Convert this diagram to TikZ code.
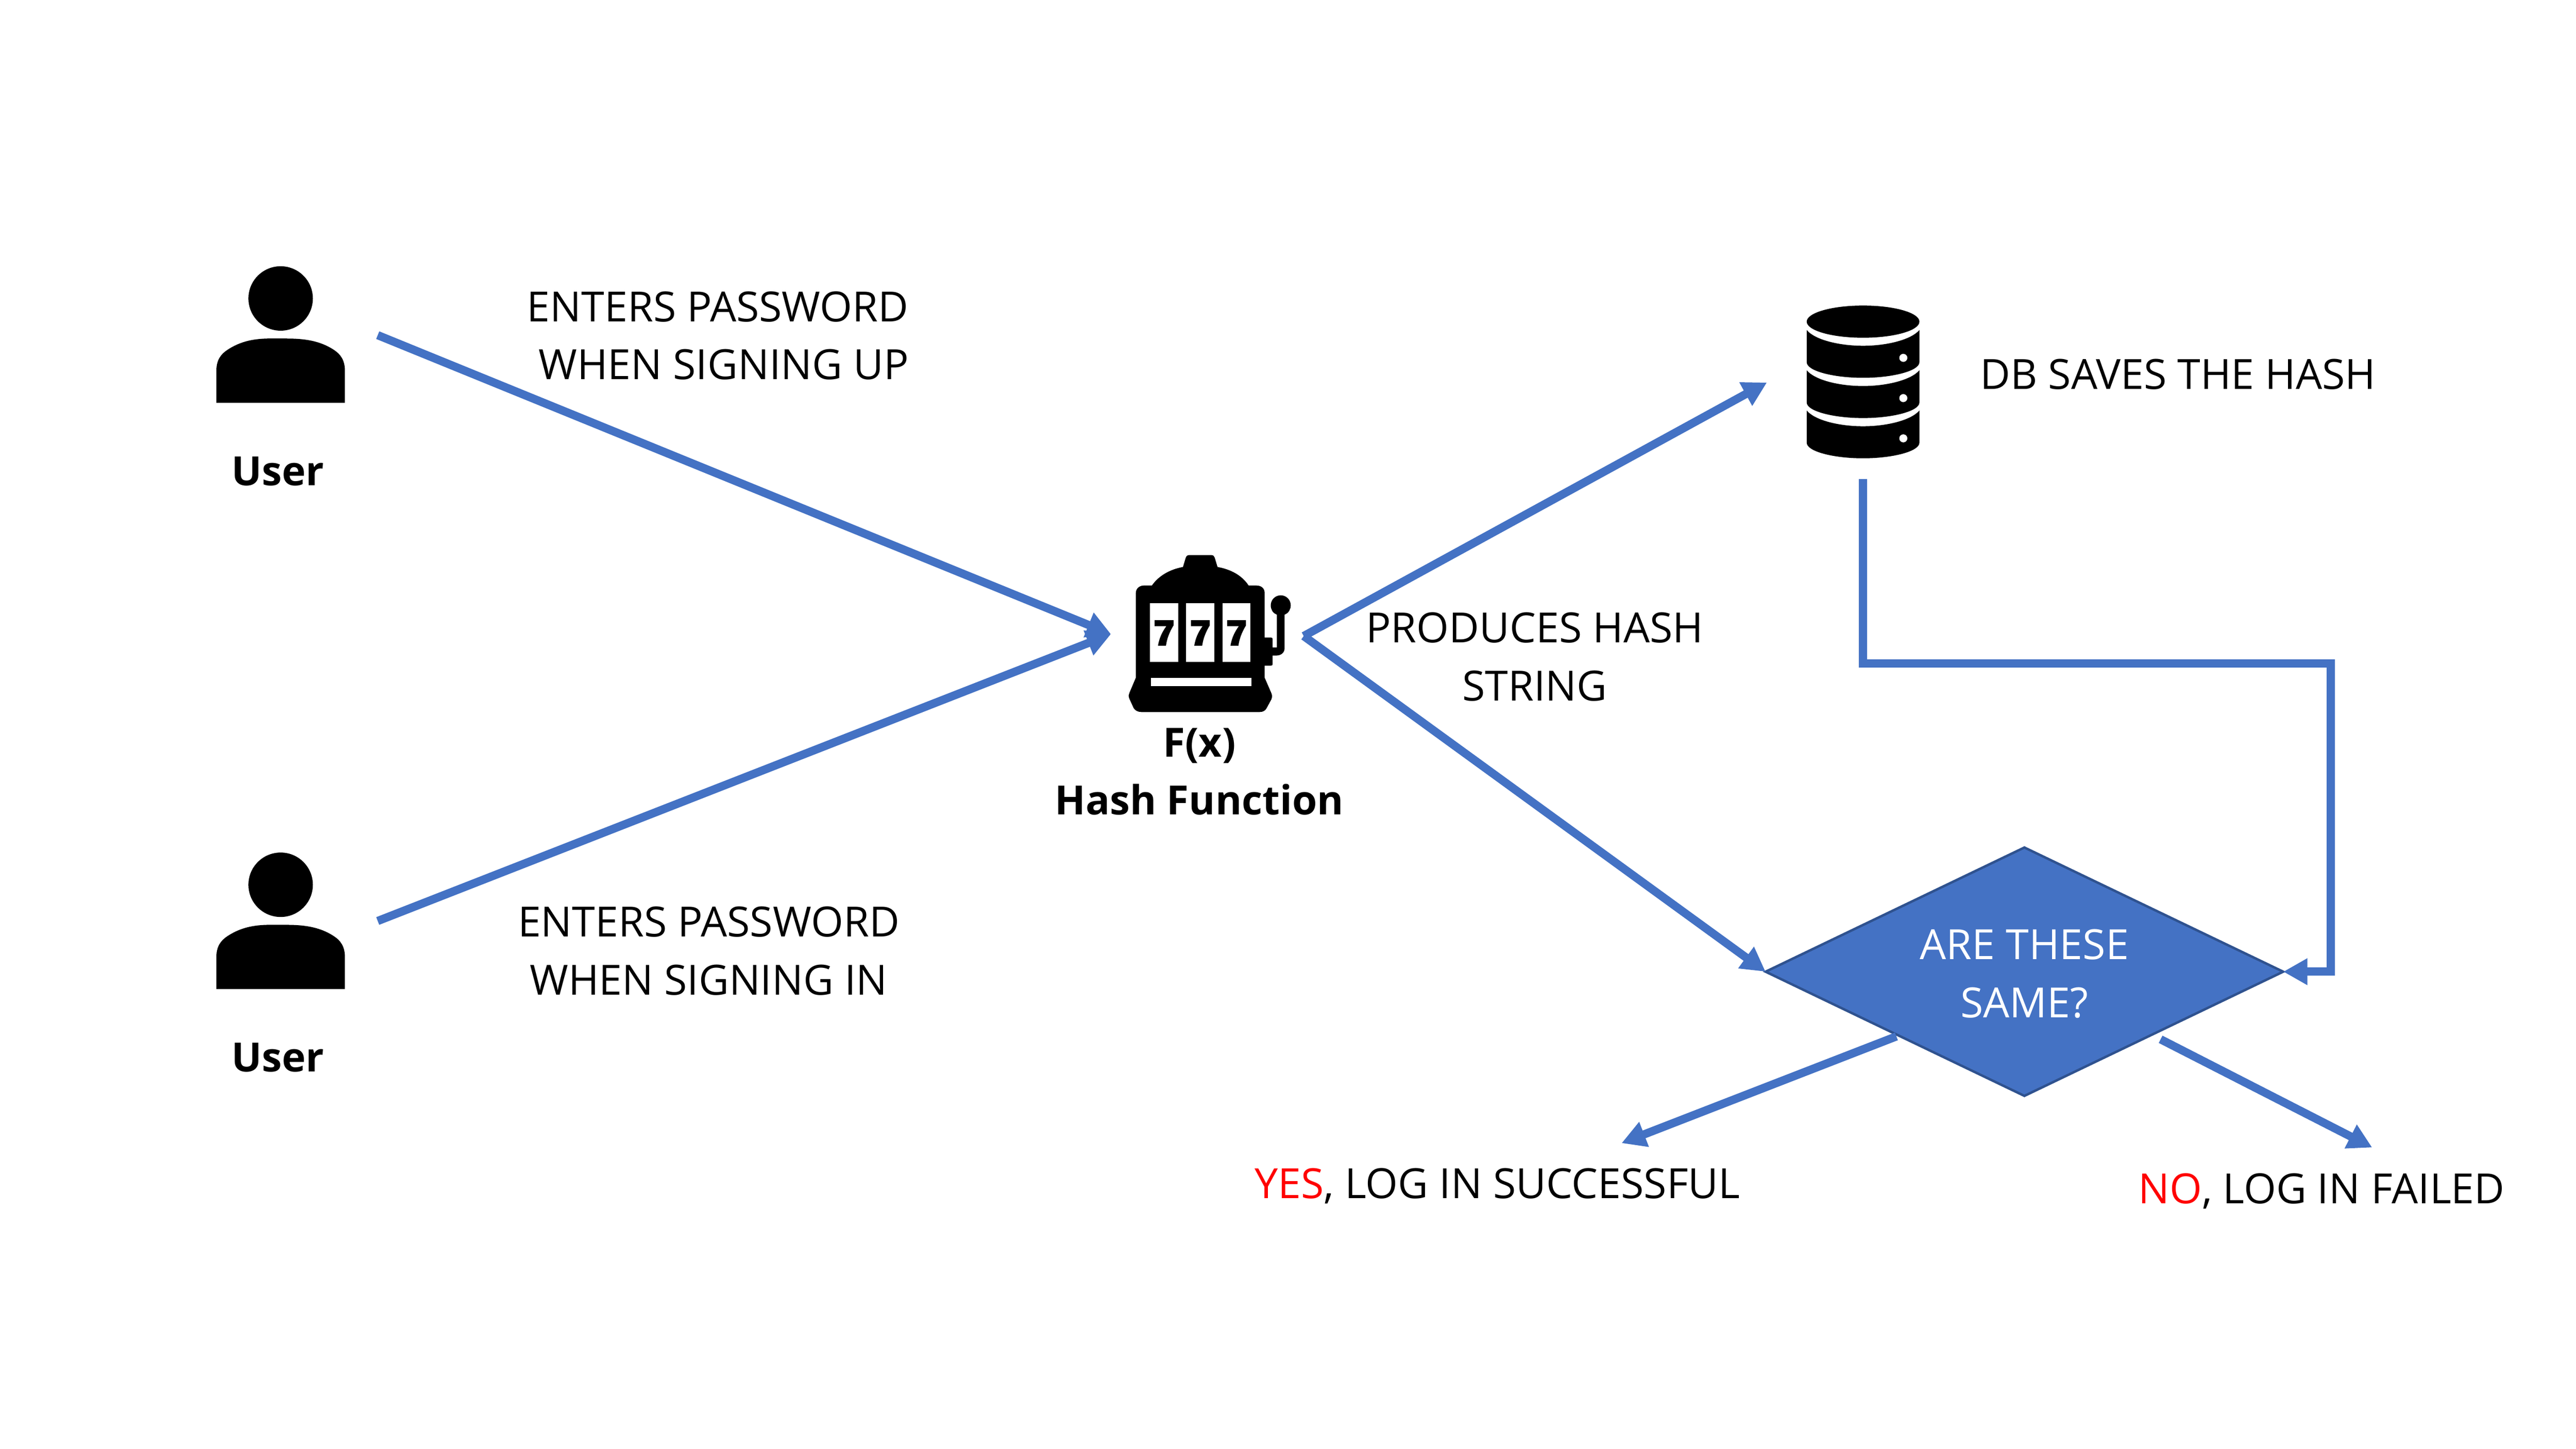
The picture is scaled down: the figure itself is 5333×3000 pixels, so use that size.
\documentclass[tikz,border=0pt]{standalone}
\usepackage{fontspec}
\setmainfont{Open Sans}
\usetikzlibrary{arrows.meta,shapes.geometric}
\definecolor{flow}{HTML}{4472C4}
\definecolor{flowdark}{HTML}{2F528F}
\tikzset{
  flowline/.style={draw=flow,line width=0.17cm,-{Triangle[length=0.5cm,width=0.52cm]}},
  lbl/.style={font=\fontsize{24.5pt}{34.1pt}\selectfont,align=center,inner sep=0,text=black},
  blbl/.style={lbl,font=\bfseries\fontsize{23.7pt}{34.1pt}\selectfont},
  icon/.style={fill=black,draw=none},
  hole/.style={fill=white,draw=none}
}
\newcommand{\personicon}[1]{%
  \begin{scope}[shift={(0,#1)}]
    \fill[icon] (581,618) circle[radius=66.7];
    \fill[icon] (448,834) -- (448,767) .. controls (448,745) and (458,733) .. (470,725) .. controls (510,698) and (550,701) .. (581,701) .. controls (612,701) and (655,700) .. (692,725) .. controls (704,733) and (714,745) .. (714,767) -- (714,834) -- cycle;
  \end{scope}}
\newcommand{\sevenglyph}[1]{%
  \fill[icon,shift={(#1,0)}] (367,552) -- (469,552) -- (469,585) .. controls (445,630) and (433,670) .. (428,711) -- (385,711) .. controls (392,665) and (405,630) .. (430,590) -- (367,590) -- cycle;}
\newcommand{\dbband}[1]{%
  \begin{scope}[shift={(0,#1)}]
    \fill[icon] (421,310) .. controls (470,370) and (620,408) .. (771,408) .. controls (920,408) and (1070,370) .. (1121,310) -- (1121,510) .. controls (1121,565) and (950,607) .. (771,607) .. controls (590,607) and (421,565) .. (421,510) -- cycle;
    \fill[hole] (1021,483) circle[radius=25];
  \end{scope}}
\begin{document}
\begin{tikzpicture}[x=0.01cm,y=-0.01cm]
\useasboundingbox (0,0) rectangle (5333,3000);
\fill[white] (0,0) rectangle (5333,3000);

% icons
\personicon{0}
\personicon{1214}

\begin{scope}[shift={(2250,1100)},xscale=0.3827,yscale=1/3]
  \fill[icon] (265,910) -- (265,385) .. controls (265,355) and (285,337) .. (310,337) -- (352,337)
    .. controls (390,275) and (450,237) .. (520,222) -- (535,165) .. controls (538,153) and (545,148) .. (555,148)
    -- (672,148) .. controls (684,148) and (690,155) .. (692,165) -- (707,222)
    .. controls (780,237) and (840,275) .. (875,337) -- (915,337) .. controls (945,337) and (962,355) .. (962,385)
    -- (962,660) -- (995,660) .. controls (1002,660) and (1005,663) .. (1005,670) -- (1005,722) -- (1028,722) -- (1028,518)
    .. controls (1005,508) and (995,485) .. (995,460) .. controls (995,425) and (1020,398) .. (1049,398)
    .. controls (1078,398) and (1103,425) .. (1103,460) .. controls (1103,485) and (1092,508) .. (1070,518)
    -- (1070,725) .. controls (1070,755) and (1050,772) .. (1025,772) -- (1005,772) -- (1005,825)
    .. controls (1005,832) and (1002,835) .. (995,835) -- (962,835) -- (962,910) -- (998,1005)
    .. controls (1003,1020) and (1003,1030) .. (998,1045) -- (972,1100) .. controls (965,1115) and (952,1123) .. (935,1123)
    -- (295,1123) .. controls (275,1123) and (260,1112) .. (253,1098) -- (230,1040)
    .. controls (225,1025) and (225,1015) .. (230,1005) -- cycle;
  \fill[hole] (341,448) rectangle (494,811);
  \fill[hole] (537,448) rectangle (690,811);
  \fill[hole] (733,448) rectangle (886,811);
  \fill[hole] (346,910) rectangle (890,961);
  \sevenglyph{0}
  \sevenglyph{196}
  \sevenglyph{392}
\end{scope}

\begin{scope}[shift={(3600,580)},scale=1/3]
  \fill[icon] (771,258) ellipse[x radius=350,y radius=100];
  \dbband{0}
  \dbband{250}
  \dbband{500}
\end{scope}

% nodes
\node[diamond,draw=flowdark,line width=0.05cm,fill=flow,minimum width=10.71cm,minimum height=5.14cm,aspect=2.08,inner sep=0,outer sep=0] (decide) at (4191,2012) {};
\node[lbl,text=white] (decidetext) at (4191,2016) {ARE THESE\\SAME?};

\node[lbl] (signup) at (1486,695) {ENTERS PASSWORD\\\hspace*{0.24cm}WHEN SIGNING UP};
\node[blbl] (user1) at (575,976) {User};
\node[blbl] (user2) at (575,2190) {User};
\node[lbl] (signin) at (1467,1969) {ENTERS PASSWORD\\WHEN SIGNING IN};
\node[blbl] (hash) at (2483,1598) {F(x)\\Hash Function};
\node[lbl] (produces) at (3177,1360) {PRODUCES HASH\\STRING};
\node[lbl] (saves) at (4509,775) {DB SAVES THE HASH};
\node[lbl] (yes) at (3100,2456) {\textcolor{red}{YES}, LOG IN SUCCESSFUL};
\node[lbl] (no) at (4806,2466) {\textcolor{red}{NO}, LOG IN FAILED};

% connector ends
\coordinate (u1out) at (782,694);
\coordinate (u2out) at (782,1907);
\coordinate (hashin) at (2300,1313);
\coordinate (hashout) at (2699,1317);
\coordinate (dbin) at (3658,792);
\coordinate (dbout) at (3857,992);
\coordinate (decideyes) at (3926,2146);
\coordinate (decideno) at (4473,2152);
\coordinate (yesin) at (3357,2367);
\coordinate (noin) at (4911,2376);
\coordinate (bendone) at (3857,1374);
\coordinate (bendtwo) at (4825,1374);
\coordinate (bendthree) at (4825,2012);

\draw[flowline] (u1out) -- (hashin);
\draw[flowline] (u2out) -- (hashin);
\draw[flowline] (hashout) -- (dbin);
\draw[flowline] (hashout) -- (decide.west);
\draw[flowline] (dbout) -- (bendone) -- (bendtwo) -- (bendthree) -- (decide.east);
\draw[flowline] (decideyes) -- (yesin);
\draw[flowline] (decideno) -- (noin);
\end{tikzpicture}
\end{document}
